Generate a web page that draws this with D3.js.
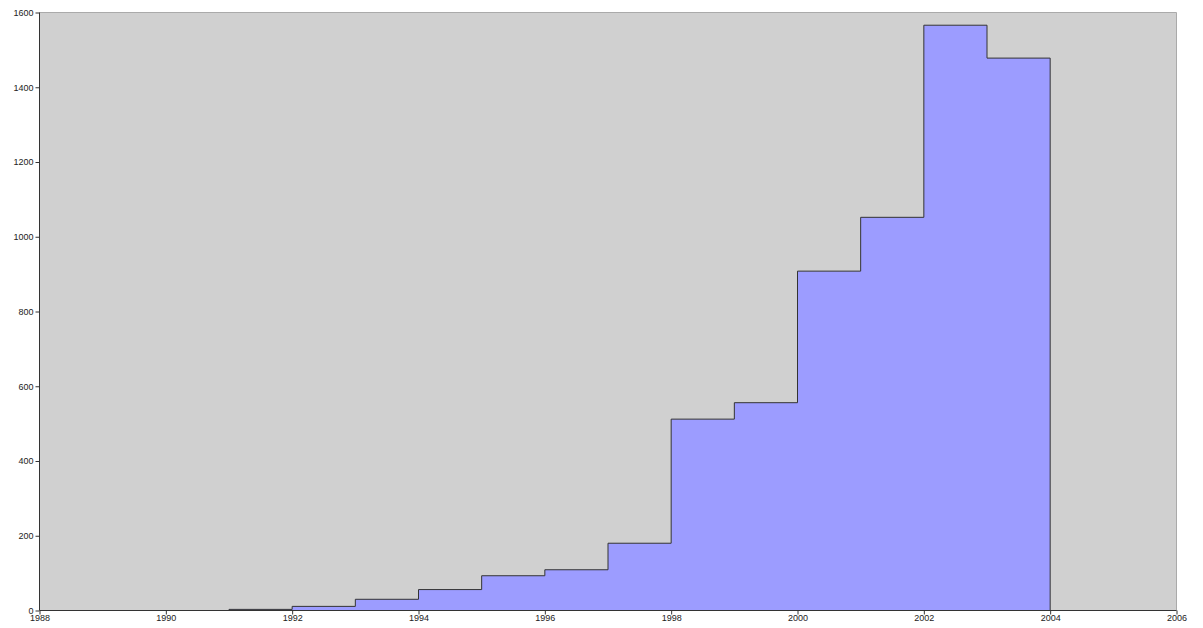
<!DOCTYPE html>
<html><head><meta charset="utf-8">
<script src="https://cdn.jsdelivr.net/npm/d3@7"></script>
<style>
body{margin:0;background:#fff;}
svg{display:block;font-family:"DejaVu Sans",sans-serif;}
.axis text{font-size:9px;fill:#222;}
.axis path,.axis line{stroke:#333;}
</style></head>
<body><svg id="c" width="1203" height="628"></svg>
<script>
const years = [1991,1992,1993,1994,1995,1996,1997,1998,1999,2000,2001,2002,2003];
const counts = [3,11,30,56,93,109,180,512,556,908,1052,1566,1478];
const xTicks = [1988,1990,1992,1994,1996,1998,2000,2002,2004,2006];
const yTicks = [0,200,400,600,800,1000,1200,1400,1600];

const svg = d3.select("#c");
const L=39.5, R=1176.5, T=12.5, B=610.5;
const x = d3.scaleLinear().domain([1988,2006]).range([L,R]);
const y = d3.scaleLinear().domain([0,1600]).range([B,T]);

svg.append("rect").attr("x",L).attr("y",T).attr("width",R-L).attr("height",B-T).attr("fill","#d0d0d0");
svg.append("path").attr("d",`M${L},${T}H${R}V${B}`).attr("fill","none").attr("stroke","#aaa").attr("stroke-width",1);

const pts=[];
years.forEach((yr,i)=>{pts.push([yr,counts[i]]);});
pts.push([years[years.length-1]+1,counts[counts.length-1]]);
const area = d3.area().curve(d3.curveStepAfter).x(d=>x(d[0])).y0(y(0)).y1(d=>y(d[1]));
svg.append("path").datum(pts).attr("d",area).attr("fill","#9c9cff").attr("stroke","#333").attr("stroke-width",1);

const gx = svg.append("g").attr("class","axis").attr("transform",`translate(0,${B})`)
  .call(d3.axisBottom(x).tickValues(xTicks).tickFormat(d3.format("d")).tickSize(4).tickPadding(0));
const gy = svg.append("g").attr("class","axis").attr("transform",`translate(${L},0)`)
  .call(d3.axisLeft(y).tickValues(yTicks).tickFormat(d3.format("d")).tickSize(4).tickPadding(2));
gx.select(".domain").attr("d",`M${L},0H${R}`);
gy.select(".domain").attr("d",`M0,${B}V${T}`);
</script></body></html>
